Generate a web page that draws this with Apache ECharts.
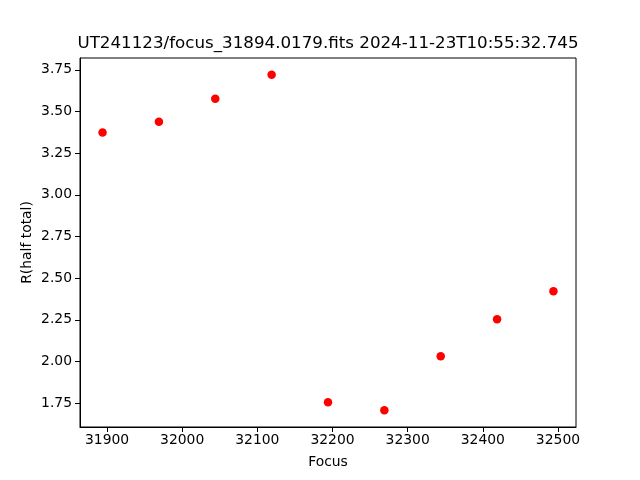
<!DOCTYPE html>
<html><head><meta charset="utf-8">
<script src="https://cdn.jsdelivr.net/npm/echarts@6/dist/echarts.min.js"></script>
<style>html,body{margin:0;padding:0;background:#fff}#c{width:640px;height:480px}</style>
</head><body><div id="c"></div>
<script>
const focusValues = [31894, 31969, 32044, 32119, 32194, 32269, 32344, 32419, 32494];
const rHalfTotal = [3.374, 3.438, 3.576, 3.720, 1.756, 1.708, 2.032, 2.254, 2.422];
const xTicks = [31900, 32000, 32100, 32200, 32300, 32400, 32500];
const yTicks = [1.75, 2.00, 2.25, 2.50, 2.75, 3.00, 3.25, 3.50, 3.75];
const titleText = 'UT241123/focus_31894.0179.fits 2024-11-23T10:55:32.745';

const font = 'DejaVu Sans';
const chart = echarts.init(document.getElementById('c'), null, {renderer: 'canvas'});
chart.setOption({
  animation: false,
  backgroundColor: '#fff',
  textStyle: {fontFamily: font},
  graphic: [{
    type: 'text', x: 328, y: 44,
    style: {text: titleText, fontFamily: font, fontSize: 16.7, fill: '#000', textAlign: 'center', textVerticalAlign: 'middle'}
  }],
  grid: {left: 80, right: 64, top: 58, bottom: 53, show: true, borderColor: '#000', borderWidth: 1, containLabel: false},
  xAxis: {
    type: 'value', min: 31864, max: 32524,
    name: 'Focus', nameLocation: 'middle', nameGap: 28, nameMoveOverlap: false,
    nameTextStyle: {fontFamily: font, fontSize: 13.9, color: '#000'},
    axisLine: {show: true, onZero: false, lineStyle: {color: '#000', width: 1}},
    axisTick: {show: true, inside: false, length: 5, customValues: xTicks, lineStyle: {color: '#000'}},
    axisLabel: {show: true, margin: 6, customValues: xTicks, fontFamily: font, fontSize: 13.9, color: '#000', formatter: v => String(v)},
    splitLine: {show: false}
  },
  yAxis: {
    type: 'value', min: 1.607, max: 3.821,
    name: 'R(half total)', nameLocation: 'middle', nameGap: 46, nameRotate: 90, nameMoveOverlap: false,
    nameTextStyle: {fontFamily: font, fontSize: 13.9, color: '#000'},
    axisLine: {show: true, onZero: false, lineStyle: {color: '#000', width: 1}},
    axisTick: {show: true, inside: false, length: 5, customValues: yTicks, lineStyle: {color: '#000'}},
    axisLabel: {show: true, margin: 8, customValues: yTicks, fontFamily: font, fontSize: 13.9, color: '#000', formatter: v => v.toFixed(2)},
    splitLine: {show: false}
  },
  series: [{
    type: 'scatter',
    data: focusValues.map((x, i) => [x, rHalfTotal[i]]),
    symbol: 'circle', symbolSize: 8.5,
    itemStyle: {color: '#ff0000', opacity: 1}
  }]
});
</script></body></html>
